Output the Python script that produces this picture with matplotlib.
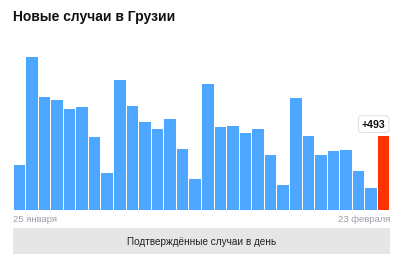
import numpy as np
import matplotlib
matplotlib.use("Agg")
import matplotlib.pyplot as plt
from matplotlib.patches import Rectangle

plt.rcParams['font.family'] = ['Liberation Sans', 'DejaVu Sans']

# daily new cases, 25 Jan .. 23 Feb
cases = [298, 1015, 749, 729, 673, 682, 482, 242, 866, 693,
         586, 540, 606, 406, 202, 837, 551, 559, 509, 540,
         362, 167, 744, 489, 364, 391, 398, 258, 145, 493]
title = "Новые случаи в Грузии"
first_label = "25 января"
last_label = "23 февраля"
button_text = "Подтверждённые случаи в день"

blue = "#4da6ff"
red = "#ff3300"

W, H = 400, 255
fig = plt.figure(figsize=(W / 100, H / 100), dpi=100)

# axes placed in pixel coords
x0, x1 = 13, 390
ytop, ybase = 40, 210.7
ax = fig.add_axes([x0 / W, (H - ybase) / H, (x1 - x0) / W, (ybase - ytop) / H])

n = len(cases)
x = np.arange(n)
colors = [blue] * (n - 1) + [red]
ax.bar(x, cases, width=0.92, color=colors, linewidth=0)
ax.set_xlim(-0.5, n - 0.5)
ax.set_ylim(0, 1137)
ax.axis("off")

# value tag above the last bar, nudged left to stay inside
ax.annotate("+%d" % cases[-1], (x[-1], cases[-1]), xytext=(-7.3, 8.3),
            textcoords="offset points", ha="center", va="center",
            fontsize=7.6, fontweight="bold", color="#111111",
            bbox=dict(boxstyle="round,pad=0.32,rounding_size=0.3",
                      fc="white", ec="#e2e2e2", lw=0.8))

fig.text(13 / W, 1 - 17 / H, title, fontsize=10, fontweight="bold",
         color="#111111", ha="left", va="center")

fig.text(x0 / W, 1 - 219.5 / H, first_label, fontsize=6.8, color="#9a9ea6",
         ha="left", va="center")
fig.text(x1 / W, 1 - 219.5 / H, last_label, fontsize=6.8, color="#9a9ea6",
         ha="right", va="center")

# grey button at the bottom
fig.patches.append(Rectangle((x0 / W, 0), (x1 - x0) / W, 26 / H,
                             transform=fig.transFigure, fc="#e6e6e6",
                             ec="none"))
fig.text((x0 + x1) / 2 / W, 1 - 242.5 / H, button_text, fontsize=7.2,
         color="#222222", ha="center", va="center")

fig.savefig("out.png", dpi=100)
